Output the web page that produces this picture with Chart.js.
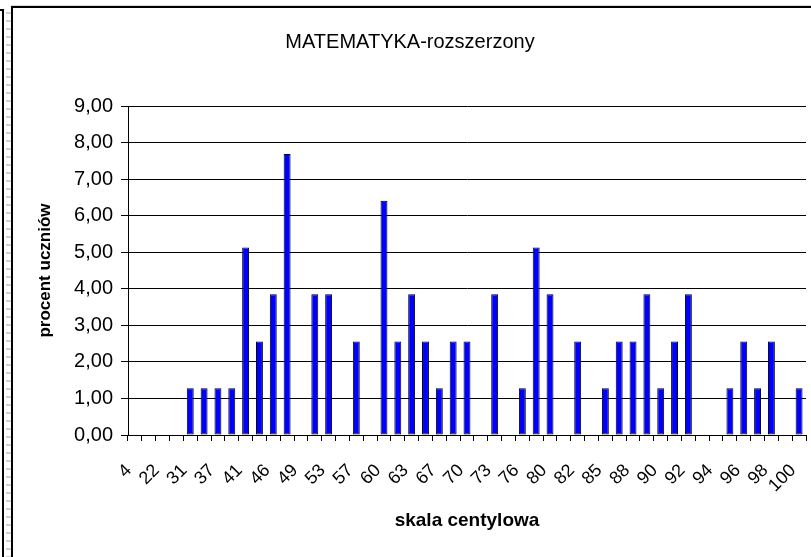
<!DOCTYPE html>
<html lang="pl">
  <head>
    <meta charset="UTF-8" />
    <title>MATEMATYKA-rozszerzony</title>
    <style>
      body { margin: 0; background: #fff; overflow: hidden; }
      .edge { position: absolute; left: -10px; top: 9px; width: 12px; height: 700px;
        border-top: 2px solid #000; border-right: 2px solid #000; }
      .dashes { position: absolute; left: 6px; top: 12px; width: 5px; height: 700px;
        background: repeating-linear-gradient(to bottom, #d0d0d0 0 2px, transparent 2px 8px); }
      .frame { position: absolute; left: 11px; top: 6px; width: 900px; height: 700px;
        border: 2px solid #000; box-shadow: 0 -1px 0 #d8d8d8; }
      canvas { position: absolute; left: 0; top: 0; }
    </style>
  </head>
  <body>
    <div class="edge"></div>
    <div class="dashes"></div>
    <div class="frame"></div>
    <canvas id="chart" width="811" height="557"></canvas>
    <script src="https://cdn.jsdelivr.net/npm/chart.js"></script>
    <script>
      // skala centylowa (co druga etykieta widoczna na osi)
      const centyle = [4, 13, 22, 27, 31, 34, 37, 39, 41, 44, 46, 48, 49, 51, 53, 55, 57, 59, 60, 62,
        63, 65, 67, 69, 70, 72, 73, 75, 76, 78, 80, 81, 82, 84, 85, 87, 88, 89, 90, 91,
        92, 93, 94, 95, 96, 97, 98, 99, 100];
      // procent uczniów
      const procent = [null, null, null, null, 1.28, 1.28, 1.28, 1.28, 5.13, 2.56, 3.85, 7.69, null, 3.85, 3.85, null, 2.56, null, 6.41, 2.56,
        3.85, 2.56, 1.28, 2.56, 2.56, null, 3.85, null, 1.28, 5.13, 3.85, null, 2.56, null, 1.28, 2.56, 2.56, 3.85, 1.28, 2.56,
        3.85, null, null, 1.28, 2.56, 1.28, 2.56, null, 1.28];
      const tytul = 'MATEMATYKA-rozszerzony';
      const osX = 'skala centylowa';
      const osY = 'procent uczniów';

      const font = "'Liberation Sans', Arial, sans-serif";
      Chart.defaults.font.family = font;
      Chart.defaults.color = '#000';

      const data = {
        labels: centyle,
        datasets: [
          {
            label: osY,
            data: procent,
            backgroundColor: '#0000ff',
            borderColor: '#000',
            borderWidth: 1,
            borderSkipped: false,
            barPercentage: 0.5,
            categoryPercentage: 1
          }
        ]
      };

      const config = {
        type: 'bar',
        data: data,
        options: {
          responsive: false,
          animation: false,
          devicePixelRatio: 1,
          layout: { padding: { left: 14, right: 5, top: 8, bottom: 0 } },
          plugins: {
            legend: { display: false },
            tooltip: { enabled: false },
            title: {
              display: true,
              text: tytul,
              color: '#000',
              font: { size: 20, weight: 'normal' },
              padding: { top: 22, bottom: 52 }
            }
          },
          scales: {
            x: {
              offset: true,
              grid: { display: true, offset: true, drawOnChartArea: false, color: '#000', tickLength: 6 },
              border: { color: '#000', width: 1 },
              ticks: {
                autoSkip: false,
                maxRotation: 45,
                minRotation: 45,
                padding: 19,
                labelOffset: -6,
                font: { size: 18 },
                callback: function (v, i) {
                  return i % 2 === 0 ? String(centyle[i]) : '';
                }
              },
              title: {
                display: true,
                text: osX,
                font: { size: 19, weight: 'bold' },
                padding: { top: 0, bottom: 25 }
              },
              afterFit: function (s) {
                s.height = 122;
                s.paddingLeft = 0;
                s.paddingRight = 0;
              }
            },
            y: {
              min: 0,
              max: 9,
              grid: { color: '#000', tickLength: 7 },
              border: { color: '#000', width: 1 },
              ticks: {
                stepSize: 1,
                padding: 8,
                font: { size: 20 },
                callback: function (v) {
                  return v.toFixed(2).replace('.', ',');
                }
              },
              title: {
                display: true,
                text: osY,
                font: { size: 17, weight: 'bold' },
                padding: { top: 21, bottom: 0 }
              },
              afterFit: function (s) { s.width = 114; }
            }
          }
        }
      };

      new Chart(document.getElementById('chart'), config);
    </script>
  </body>
</html>
